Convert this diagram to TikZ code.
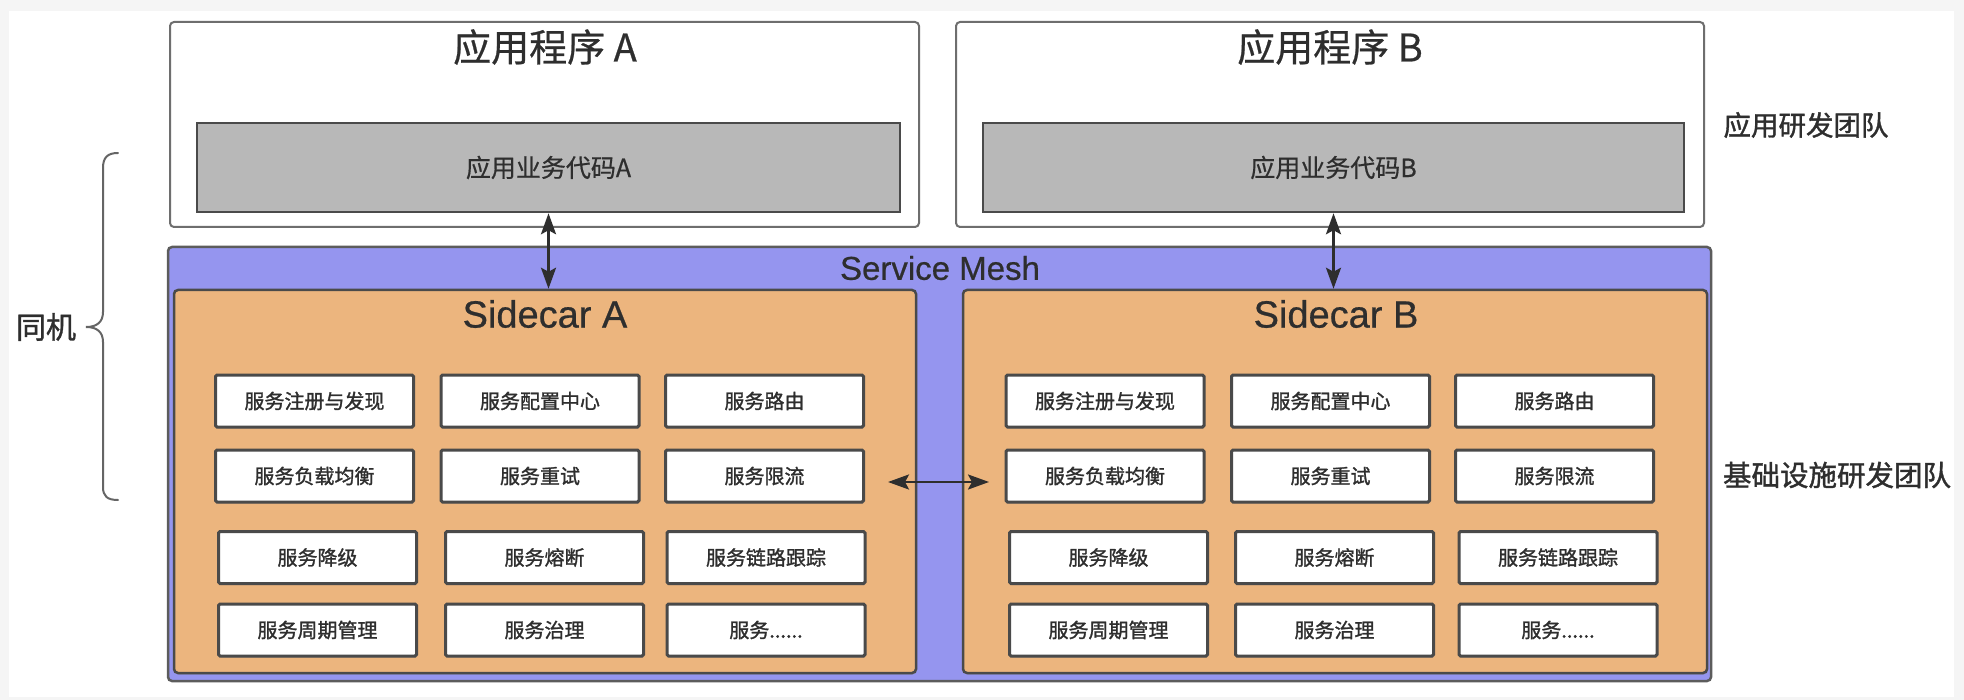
\documentclass[tikz,border=0pt]{standalone}
\usepackage{fontspec}
\setmainfont{Liberation Sans}[FakeBold=0.6]
\newfontfamily\cjk{Noto Sans CJK SC}[FakeBold=0.6]
\newfontfamily\cjkm{Noto Sans CJK SC}[FakeBold=1.3]
\usetikzlibrary{arrows.meta,shadows,calc}
\definecolor{bgc}{HTML}{F5F5F5}
\definecolor{meshc}{HTML}{9595EF}
\definecolor{carc}{HTML}{ECB57E}
\definecolor{grayc}{HTML}{B8B8B8}
\definecolor{linec}{HTML}{4A4A4A}
\definecolor{txtc}{HTML}{2E2E2E}
\tikzset{
  softshadow/.style={drop shadow={shadow xshift=1pt, shadow yshift=-1.5pt, opacity=0.35}},
  appbox/.style={draw=linec!80, line width=2pt, fill=white, rounded corners=4pt, inner sep=0pt},
  codebox/.style={draw=linec, line width=2.5pt, fill=grayc, inner sep=0pt, minimum height=89pt,
    font=\cjk\fontsize{25}{28}\selectfont, text=txtc, softshadow},
  meshbox/.style={draw=linec!90, line width=2.5pt, fill=meshc, rounded corners=4pt, inner sep=0pt},
  carbox/.style={draw=linec, line width=2.5pt, fill=carc, rounded corners=4pt, inner sep=0pt, softshadow},
  svc/.style={draw=linec, line width=3pt, fill=white, rounded corners=1.5pt, inner sep=0pt,
    minimum width=198pt, minimum height=52pt, font=\cjkm\fontsize{20}{24}\selectfont, text=txtc,
    softshadow},
  title/.style={font=\cjk\fontsize{38}{42}\selectfont, text=txtc, inner sep=0pt},
  lattitle/.style={font=\fontsize{38}{42}\selectfont, text=txtc, inner sep=0pt},
  side/.style={font=\cjkm\fontsize{27.5}{30}\selectfont, text=txtc, inner sep=0pt},
  link/.style={line width=2.5pt, draw=txtc,
    {Stealth[length=21pt,width=15pt,inset=4pt]}-{Stealth[length=21pt,width=15pt,inset=4pt]}},
}
\begin{document}
\begin{tikzpicture}[x=1pt,y=-1pt]
\useasboundingbox (0,0) rectangle (1964,700);
\fill[bgc] (0,0) rectangle (1964,700);
\fill[white] (9,11) rectangle (1954,697);

% application boxes
\node[appbox, minimum width=749pt, minimum height=205pt] (appa) at (544.5,124.5) {};
\node[appbox, minimum width=748pt, minimum height=205pt] (appb) at (1330,124.5) {};
\node[title] (ta) at (545,47) {应用程序 A};
\node[title] (tb) at (1330,47) {应用程序 B};
\node[codebox, minimum width=703pt] (ga) at (548.5,167.5) {应用业务代码A};
\node[codebox, minimum width=701pt] (gb) at (1333.5,167.5) {应用业务代码B};

% service mesh
\node[meshbox, minimum width=1543pt, minimum height=434pt] (mesh) at (939.5,464) {};
\node[lattitle, font=\fontsize{33}{38}\selectfont] (ml) at (940,268) {Service Mesh};

\node[carbox, minimum width=742pt, minimum height=383pt] (sa) at (545,481.5) {};
\node[carbox, minimum width=744pt, minimum height=383pt] (sb) at (1335,481.5) {};
\node[lattitle] (sta) at (545,314) {Sidecar A};
\node[lattitle] (stb) at (1336,314) {Sidecar B};

% sidecar A services
\node[svc] (a11) at (314.5,401) {服务注册与发现};
\node[svc] (a12) at (540,401) {服务配置中心};
\node[svc] (a13) at (764.5,401) {服务路由};
\node[svc] (a21) at (314.5,476) {服务负载均衡};
\node[svc] (a22) at (540,476) {服务重试};
\node[svc] (a23) at (764.5,476) {服务限流};
\node[svc] (a31) at (317.5,557.5) {服务降级};
\node[svc] (a32) at (544.5,557.5) {服务熔断};
\node[svc] (a33) at (766,557.5) {服务链路跟踪};
\node[svc] (a41) at (317.5,630) {服务周期管理};
\node[svc] (a42) at (544.5,630) {服务治理};
\node[svc] (a43) at (766,630) {服务......};

% sidecar B services
\node[svc] (b11) at (1105,401) {服务注册与发现};
\node[svc] (b12) at (1330.5,401) {服务配置中心};
\node[svc] (b13) at (1554.5,401) {服务路由};
\node[svc] (b21) at (1105,476) {服务负载均衡};
\node[svc] (b22) at (1330.5,476) {服务重试};
\node[svc] (b23) at (1554.5,476) {服务限流};
\node[svc] (b31) at (1108.5,557.5) {服务降级};
\node[svc] (b32) at (1334.5,557.5) {服务熔断};
\node[svc] (b33) at (1558,557.5) {服务链路跟踪};
\node[svc] (b41) at (1108.5,630) {服务周期管理};
\node[svc] (b42) at (1334.5,630) {服务治理};
\node[svc] (b43) at (1558,630) {服务......};

% connectors
\draw[link] (ga.south) -- (ga.south |- sa.north);
\draw[link] (gb.south) -- (gb.south |- sb.north);
\coordinate (h1) at (888,482);
\coordinate (h2) at (989,482);
\draw[link] (h1) -- (h2);

% side labels
\node[side] (dev) at (1806,125) {应用研发团队};
\node[side, font=\cjkm\fontsize{28.5}{30}\selectfont] (infra) at (1837,475) {基础设施研发团队};
\node[side, font=\cjkm\fontsize{30}{32}\selectfont] (same) at (46,327) {同机};

% brace
\draw[linec!85, line width=2pt, line cap=round]
  (118,153) .. controls (107,153) and (103,158) .. (103,168)
  -- (103,312) .. controls (103,322) and (97,327) .. (86,327)
  .. controls (97,327) and (103,332) .. (103,342)
  -- (103,487) .. controls (103,496) and (107,500) .. (118,500);
\end{tikzpicture}
\end{document}
